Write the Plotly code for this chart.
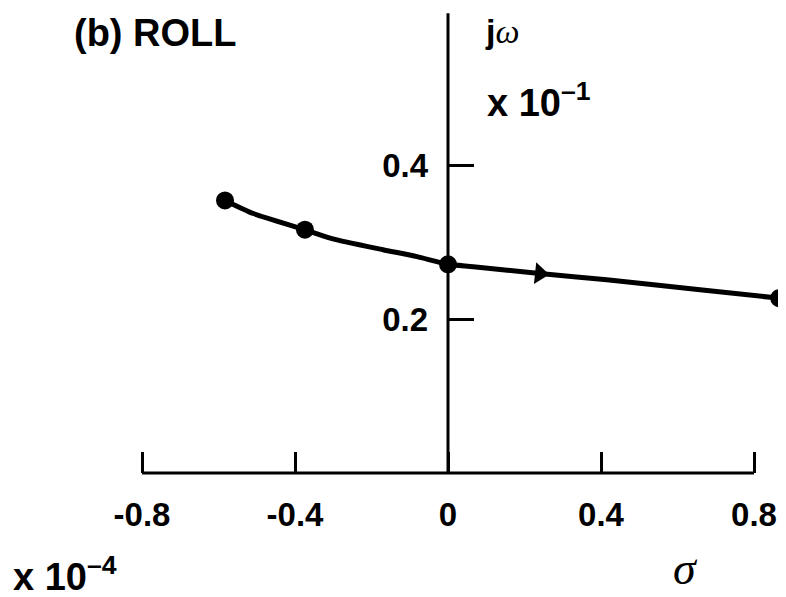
import plotly.graph_objects as go

# Data (sigma in units of 1e-4, j-omega in units of 1e-1)
curve_sigma = [-0.583, -0.509, -0.374, -0.301, -0.170, -0.081, 0.000, 0.066, 0.240, 0.415, 0.659, 0.866]
curve_omega = [0.354, 0.337, 0.316, 0.304, 0.290, 0.281, 0.271, 0.268, 0.259, 0.251, 0.238, 0.227]
point_sigma = [-0.583, -0.374, 0.000, 0.866]
point_omega = [0.354, 0.316, 0.271, 0.227]
arrow_sigma = [0.240]
arrow_omega = [0.259]
x_tickvals = [-0.8, -0.4, 0, 0.4, 0.8]
x_ticktext = ["-0.8", "-0.4", "0", "0.4", "0.8"]
y_tickvals = [0.2, 0.4]
y_ticktext = ["0.2", "0.4"]

# page body has an 8px margin, so the figure starts at (8, 8) in the window
OFF = 8
W, H = 786 - OFF, 597 - OFF
X0PX, XSCALE = 448.0, 382.5   # window px of sigma=0, px per unit
Y0PX, YSCALE = 473.0, 770.0   # window px of omega=0, px per unit


def px2x(px):
    return (px - X0PX) / XSCALE


def py2y(py):
    return (Y0PX - py) / YSCALE


xr = [px2x(OFF), px2x(OFF + W)]
yr = [py2y(OFF + H), py2y(OFF)]
x_axis_pos = (0 - yr[0]) / (yr[1] - yr[0])
y_axis_pos = (0 - xr[0]) / (xr[1] - xr[0])

SANS = "Liberation Sans"
SERIF = "Liberation Serif"
tickfont = dict(family=SANS, size=33, color="black", weight="bold")

fig = go.Figure()
fig.add_trace(go.Scatter(x=curve_sigma, y=curve_omega, mode="lines",
                         line=dict(color="black", width=5, shape="spline", smoothing=0.6),
                         hoverinfo="skip", showlegend=False))
fig.add_trace(go.Scatter(x=point_sigma, y=point_omega, mode="markers",
                         marker=dict(color="black", size=18), showlegend=False))
fig.add_trace(go.Scatter(x=arrow_sigma, y=arrow_omega, mode="markers",
                         marker=dict(color="black", size=19, symbol="triangle-right", angle=6),
                         showlegend=False))

# axis lines
fig.add_shape(type="line", xref="x", yref="y", x0=-0.8, x1=0.8, y0=0, y1=0,
              line=dict(color="black", width=3))
fig.add_shape(type="line", xref="x", yref="y", x0=0, x1=0, y0=0, y1=0.597,
              line=dict(color="black", width=3))

fig.update_layout(
    width=W, height=H,
    margin=dict(l=0, r=0, t=0, b=0),
    paper_bgcolor="white", plot_bgcolor="white",
    showlegend=False,
    xaxis=dict(range=xr, showgrid=False, zeroline=False, showline=False,
               anchor="free", position=x_axis_pos,
               tickvals=x_tickvals, ticktext=x_ticktext,
               ticks="inside", ticklen=21, tickwidth=3, tickcolor="black",
               tickfont=tickfont, ticklabelstandoff=19, automargin=False),
    yaxis=dict(range=yr, showgrid=False, zeroline=False, showline=False,
               anchor="free", position=y_axis_pos,
               tickvals=y_tickvals, ticktext=y_ticktext,
               ticks="inside", ticklen=25, tickwidth=3, tickcolor="black",
               tickfont=tickfont, ticklabelstandoff=20, automargin=False),
)

bold = dict(family=SANS, color="black", weight="bold")
fig.add_annotation(x=px2x(155), y=py2y(33), xref="x", yref="y", text="(b) ROLL",
                   showarrow=False, font=dict(size=38, **bold), xanchor="center", yanchor="middle")
fig.add_annotation(x=px2x(483), y=py2y(31), xref="x", yref="y",
                   text="j<span style='font-family:Liberation Serif;font-style:italic;font-weight:normal'>ω</span>",
                   showarrow=False, font=dict(size=34, **bold), xanchor="left", yanchor="middle")
fig.add_annotation(x=px2x(485), y=py2y(100), xref="x", yref="y", text="x 10<sup>–1</sup>",
                   showarrow=False, font=dict(size=38, **bold), xanchor="left", yanchor="middle")
fig.add_annotation(x=px2x(11), y=py2y(574), xref="x", yref="y", text="x 10<sup>–4</sup>",
                   showarrow=False, font=dict(size=38, **bold), xanchor="left", yanchor="middle")
fig.add_annotation(x=px2x(685), y=py2y(568), xref="x", yref="y", text="<i>σ</i>",
                   showarrow=False, font=dict(family=SERIF, size=46, color="black"),
                   xanchor="center", yanchor="middle")

fig.write_html("out.html")
